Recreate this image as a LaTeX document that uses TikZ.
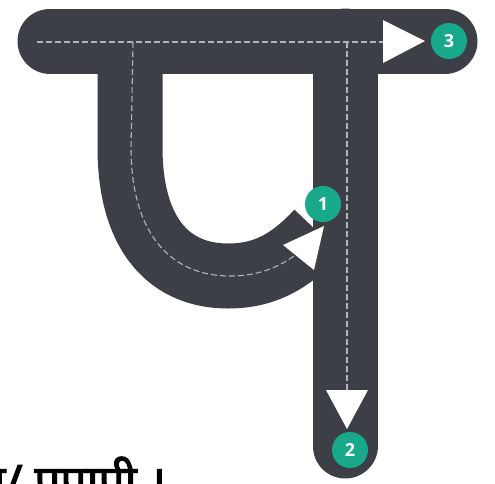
\documentclass[tikz,border=0pt]{standalone}
\usepackage{fontspec}
\newfontfamily\devfont[Script=Devanagari,FakeBold=2.5]{Noto Sans}
\newfontfamily\badgefont{Open Sans}
\definecolor{road}{RGB}{61,63,70}
\definecolor{lane}{RGB}{178,180,188}
\definecolor{badge}{RGB}{24,168,138}
\tikzset{
  roadline/.style={draw=road, line width=65pt},
  laneline/.style={draw=lane, line width=1.1pt, dash pattern=on 6pt off 3pt},
  arrowtri/.style={fill=white, draw=none},
  numbadge/.style={circle, fill=badge, minimum size=36pt, inner sep=0pt, text=white, font=\badgefont\bfseries\fontsize{18}{18}\selectfont},
}
\begin{document}
\begin{tikzpicture}[x=1pt,y=-1pt]
\useasboundingbox (0,0) rectangle (495,483);
% coordinates
\coordinate (tl) at (50,41);
\coordinate (tr) at (445,41);
\coordinate (sTop) at (345,41);
\coordinate (sBot) at (345,446);
\coordinate (uTop) at (130,41);
% roads
\draw[roadline, line cap=round] (tl) -- (tr);
\draw[roadline, line cap=round] (sTop) -- (sBot);
\draw[roadline] (uTop) -- (130,150) .. controls (131,238) and (172,276) .. (228,276) .. controls (264,276) and (290,262) .. (318,232);
% lanes
\draw[laneline] (37,42) -- (385,42);
\draw[laneline] (347,42) -- (347,390);
\draw[laneline] (133,42) -- (131,150) .. controls (132,238) and (174,276) .. (230,276) .. controls (257,276) and (277,268) .. (294,256);
% arrows
\path[arrowtri] (383,20) -- (425,41) -- (383,63) -- cycle;
\path[arrowtri] (326,390) -- (347,429) -- (368,390) -- cycle;
\path[arrowtri] (283,245) -- (324,226) -- (314,270) -- cycle;
% badges
\node[numbadge] (b1) at (323,204) {1};
\node[numbadge] (b2) at (350,450) {2};
\node[numbadge] (b3) at (449,41) {3};
% caption
\node[anchor=base west, inner sep=0pt, font=\devfont\fontsize{46}{46}\selectfont] (cap) at (-21,498) {प/ पपापी ।};
\end{tikzpicture}
\end{document}
